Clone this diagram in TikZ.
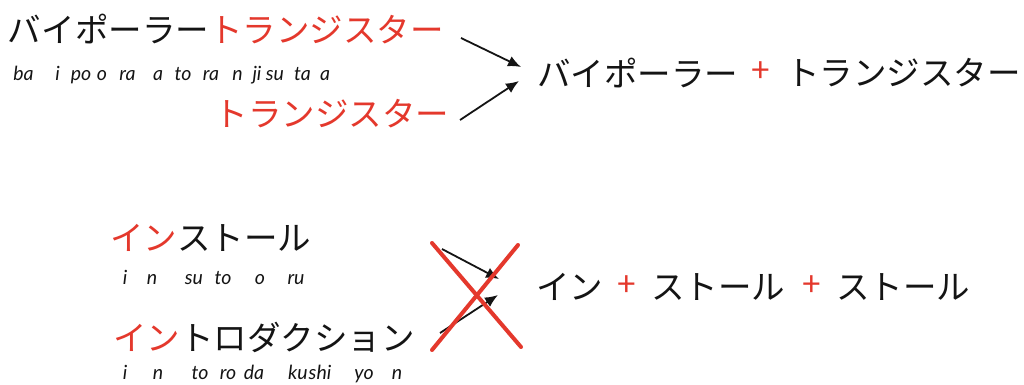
\documentclass[tikz,border=0pt]{standalone}
\usepackage{fontspec}
\usetikzlibrary{arrows.meta}
\newfontfamily\jpfont{Noto Sans CJK JP}
\newfontfamily\romfont{Lato}
\definecolor{kred}{RGB}{228,56,44}
\definecolor{kblack}{RGB}{20,20,20}
\tikzset{
  kana/.style={inner sep=0pt, outer sep=0pt, text=kblack, font=\jpfont\fontsize{33.5}{38}\selectfont},
  plus/.style={inner sep=0pt, outer sep=0pt, text=kred, font=\jpfont\fontsize{33.5}{38}\selectfont},
  rom/.style={inner sep=0pt, outer sep=0pt, anchor=base, text=kblack, font=\romfont\itshape\fontsize{19.5}{22}\selectfont},
  arr/.style={draw=kblack, line width=1.8pt, -{Latex[length=13pt,width=11pt]}},
  cross/.style={draw=kred, line width=4pt, line cap=round}
}
\begin{document}
\begin{tikzpicture}[x=1pt,y=-1pt]
\useasboundingbox (0,0) rectangle (1024,385);
\fill[white] (0,0) rectangle (1024,385);
% ---- top group ----
\node[kana, anchor=west] (bt) at (8,29) {バイポーラー\textcolor{kred}{トランジスター}};
\foreach \t/\x [count=\i] in {ba/23.5, i/57.5, po/81, o/102, ra/127.5, a/158, to/183, ra/211, n/237.5, ji/257, su/275, ta/302.5, a/325}
  \node[rom] (r1-\i) at (\x,81) {\t};
\node[kana, anchor=east, text=kred] (tr) at (449,114) {トランジスター};
\node[kana, anchor=west] (res1a) at (537,73) {バイポーラー};
\node[plus] (p1) at (761,72) {+};
\node[kana, anchor=west] (res1b) at (786,73) {トランジスター};
\coordinate (a1s) at (461,38);
\coordinate (a1e) at (521,67);
\coordinate (a2s) at (460,120);
\coordinate (a2e) at (519,81);
\draw[arr] (a1s) -- (a1e);
\draw[arr] (a2s) -- (a2e);
% ---- bottom group ----
\node[kana, anchor=west] (inst) at (110,238) {\textcolor{kred}{イン}ストール};
\foreach \t/\x [count=\i] in {i/125, n/152, su/194, to/223, o/260, ru/296}
  \node[rom] (r2-\i) at (\x,284) {\t};
\node[kana, anchor=west] (intro) at (113,337) {\textcolor{kred}{イン}トロダクション};
\foreach \t/\x [count=\i] in {i/125, n/158, to/200, ro/228, da/254, ku/298, shi/320, yo/364, n/397}
  \node[rom] (r3-\i) at (\x,379) {\t};
\node[kana, anchor=west] (res2a) at (536,287) {イン};
\node[plus] (p2) at (627,286) {+};
\node[kana, anchor=west] (res2b) at (651,287) {ストール};
\node[plus] (p3) at (812,286) {+};
\node[kana, anchor=west] (res2c) at (836,287) {ストール};
\coordinate (b1s) at (442,249);
\coordinate (b1e) at (499,279);
\coordinate (b2s) at (440,333);
\coordinate (b2e) at (498,295);
\draw[arr] (b1s) -- (b1e);
\draw[arr] (b2s) -- (b2e);
\coordinate (x1a) at (432,243);
\coordinate (x1b) at (521,347);
\coordinate (x2a) at (518,245);
\coordinate (x2b) at (432,350);
\draw[cross] (x1a) -- (x1b);
\draw[cross] (x2a) -- (x2b);
\end{tikzpicture}
\end{document}
